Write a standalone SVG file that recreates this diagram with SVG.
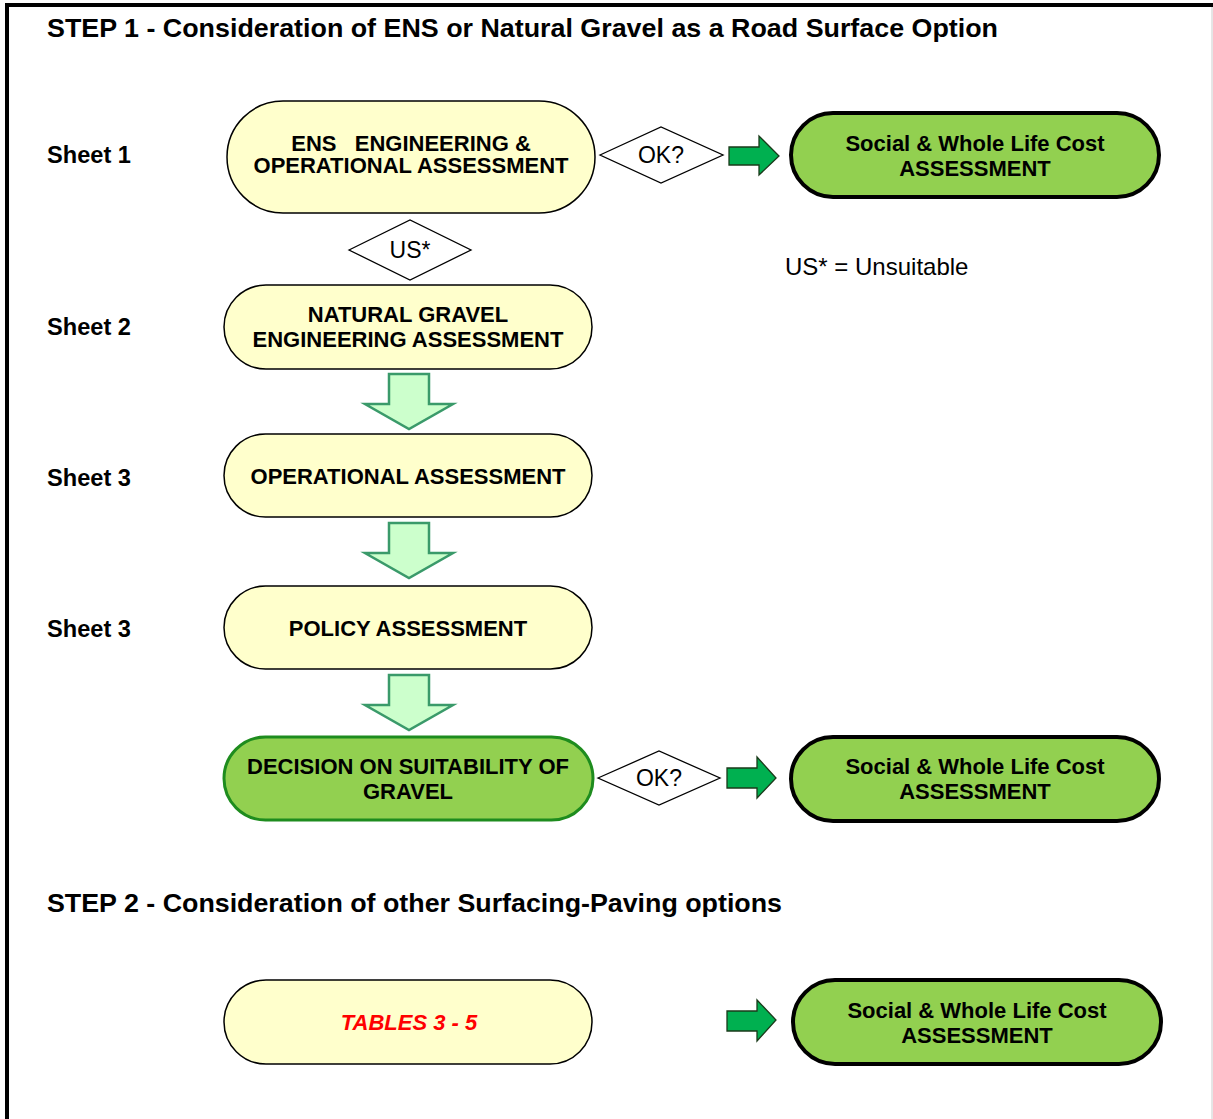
<svg xmlns="http://www.w3.org/2000/svg" width="1213" height="1119" viewBox="0 0 1213 1119">
<style>
text{font-family:"Liberation Sans",Arial,sans-serif;fill:#000}
.h{font-size:25px;font-weight:bold}
.sh{font-size:23.6px;font-weight:bold}
.nt{font-size:22px;font-weight:bold;text-anchor:middle}
.dt{font-size:23px;text-anchor:middle}
.y{fill:#ffffcc;stroke:#000;stroke-width:1.5}
.g{fill:#92d050;stroke:#000;stroke-width:4}
.gd{fill:#92d050;stroke:#1e8c1e;stroke-width:3}
.dia{fill:#fff;stroke:#000;stroke-width:1.3}
.ra{fill:#00b050;stroke:#1a3a1a;stroke-width:1.3}
.da{fill:#ccffcc;stroke:#3a9a6a;stroke-width:2.5;stroke-linejoin:miter}
</style>
<rect x="0" y="0" width="1213" height="1119" fill="#fff"/>
<path d="M7,1119 V5 H1213" fill="none" stroke="#000" stroke-width="4"/>
<line x1="1212" y1="7" x2="1212" y2="1119" stroke="#ccc" stroke-width="1"/>

<text class="h" x="47" y="37" textLength="951" lengthAdjust="spacingAndGlyphs">STEP 1 - Consideration of ENS or Natural Gravel as a Road Surface Option</text>
<text class="h" x="47" y="912" textLength="735" lengthAdjust="spacingAndGlyphs">STEP 2 - Consideration of other Surfacing-Paving options</text>

<text class="sh" x="47" y="163">Sheet 1</text>
<text class="sh" x="47" y="335">Sheet 2</text>
<text class="sh" x="47" y="486">Sheet 3</text>
<text class="sh" x="47" y="637">Sheet 3</text>
<text x="785" y="275" style="font-size:24px">US* = Unsuitable</text>

<g id="ens">
<rect class="y" x="227" y="101" width="368" height="112" rx="56"/>
<text class="nt" x="411" y="151" xml:space="preserve">ENS   ENGINEERING &amp;</text>
<text class="nt" x="411" y="173">OPERATIONAL ASSESSMENT</text>
</g>
<g id="ok1">
<polygon class="dia" points="600,155 661,127 723,155 661,183"/>
<text class="dt" x="661" y="163">OK?</text>
</g>
<g id="swlc1">
<rect class="g" x="791" y="113" width="368" height="84" rx="42"/>
<text class="nt" x="975" y="151">Social &amp; Whole Life Cost</text>
<text class="nt" x="975" y="176">ASSESSMENT</text>
</g>
<g id="us">
<polygon class="dia" points="349,250 410,220 471,250 410,280"/>
<text class="dt" x="410" y="258">US*</text>
</g>
<g id="ng">
<rect class="y" x="224" y="285" width="368" height="84" rx="42"/>
<text class="nt" x="408" y="322">NATURAL GRAVEL</text>
<text class="nt" x="408" y="347">ENGINEERING ASSESSMENT</text>
</g>
<g id="op">
<rect class="y" x="224" y="434" width="368" height="83" rx="41.5"/>
<text class="nt" x="408" y="484">OPERATIONAL ASSESSMENT</text>
</g>
<g id="policy">
<rect class="y" x="224" y="586" width="368" height="83" rx="41.5"/>
<text class="nt" x="408" y="636">POLICY ASSESSMENT</text>
</g>
<g id="decision">
<rect class="gd" x="224" y="737" width="369" height="83" rx="41.5"/>
<text class="nt" x="408" y="774">DECISION ON SUITABILITY OF</text>
<text class="nt" x="408" y="799">GRAVEL</text>
</g>
<g id="ok2">
<polygon class="dia" points="598,778 659,751 720,778 659,805"/>
<text class="dt" x="659" y="786">OK?</text>
</g>
<g id="swlc2">
<rect class="g" x="791" y="737" width="368" height="84" rx="42"/>
<text class="nt" x="975" y="774">Social &amp; Whole Life Cost</text>
<text class="nt" x="975" y="799">ASSESSMENT</text>
</g>
<g id="tables">
<rect class="y" x="224" y="980" width="368" height="84" rx="42"/>
<text x="409" y="1030" style="font-size:22px;font-weight:bold;font-style:italic;text-anchor:middle;fill:#ff0000">TABLES 3 - 5</text>
</g>
<g id="swlc3">
<rect class="g" x="793" y="980" width="368" height="84" rx="42"/>
<text class="nt" x="977" y="1018">Social &amp; Whole Life Cost</text>
<text class="nt" x="977" y="1043">ASSESSMENT</text>
</g>

<g id="connectors">
<polygon class="ra" points="729,147 759,147 759,136 779,156 759,175 759,165 729,165"/>
<polygon class="ra" points="727,768 757,768 757,757 776,778 757,798 757,788 727,788"/>
<polygon class="ra" points="727,1011 757,1011 757,1000 776,1020 757,1041 757,1031 727,1031"/>
<polygon class="da" points="389,374 429,374 429,404 453,404 409,429 365,404 389,404"/>
<polygon class="da" points="389,523 429,523 429,553 453,553 409,578 365,553 389,553"/>
<polygon class="da" points="389,675 429,675 429,705 453,705 409,730 365,705 389,705"/>
</g>
</svg>
